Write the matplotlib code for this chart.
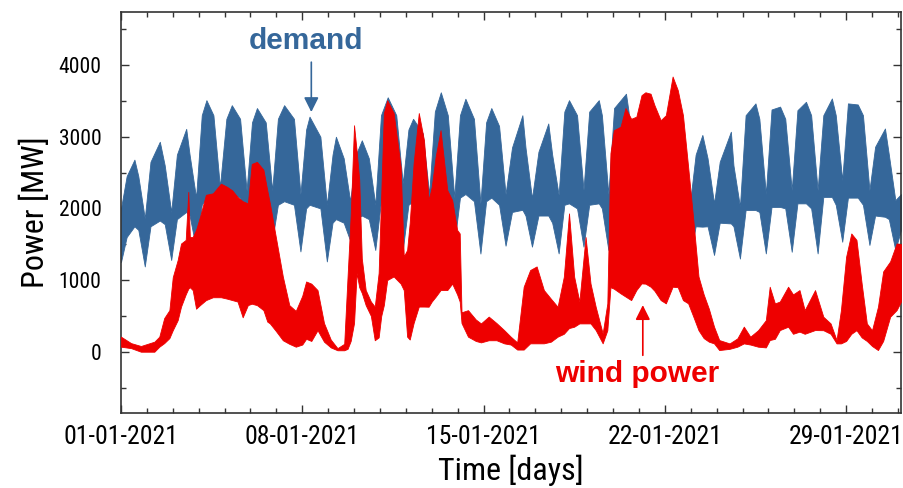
import matplotlib
matplotlib.use("Agg")
import matplotlib.pyplot as plt
from matplotlib.ticker import FixedLocator, MultipleLocator

# Time axis: days since 01-01-2021 00:00
# Electricity demand envelope (upper / lower edge of the fast-varying band), MW
demand_t = [0.0, 0.22, 0.52, 0.67, 0.92,
            1.14, 1.5, 1.69, 1.94,
            2.16, 2.52, 2.65, 2.9,
            3.12, 3.3, 3.57, 3.82,
            4.07, 4.28, 4.6, 4.85,
            5.06, 5.25, 5.59, 5.84,
            6.06, 6.3, 6.68, 6.93,
            7.15, 7.28, 7.7, 7.95,
            8.17, 8.3, 8.6, 8.85,
            9.07, 9.3, 9.57, 9.82,
            10.04, 10.3, 10.63, 10.88,
            11.1, 11.28, 11.65, 11.9,
            12.12, 12.35, 12.62, 12.87,
            13.09, 13.3, 13.63, 13.88,
            14.1, 14.3, 14.6, 14.85,
            15.1, 15.5, 15.62, 15.87,
            16.12, 16.5, 16.65, 16.9,
            17.12, 17.3, 17.61, 17.86,
            18.08, 18.45, 18.57, 18.82,
            19.04, 19.5, 19.6, 19.85,
            20.07, 20.35, 20.63, 20.88,
            21.1, 21.3, 21.72, 21.97,
            22.19, 22.45, 22.65, 22.9,
            23.12, 23.55, 23.65, 23.9,
            24.12, 24.5, 24.65, 24.9,
            25.12, 25.45, 25.65, 25.9,
            26.12, 26.45, 26.65, 26.9,
            27.12, 27.45, 27.6, 27.85,
            28.07, 28.45, 28.65, 28.9,
            29.12, 29.5, 29.65, 29.9,
            30.12]
demand_hi = [2000, 2450, 2680, 2450, 1860,
             2650, 2930, 2600, 1950,
             2750, 3110, 2750, 2150,
             3300, 3510, 3300, 2300,
             3250, 3440, 3250, 2250,
             3200, 3400, 3200, 2250,
             3250, 3440, 3250, 2200,
             3100, 3280, 3000, 2050,
             2750, 3000, 2700, 2100,
             2750, 2950, 2700, 2050,
             3300, 3550, 3300, 2350,
             3100, 3250, 3050, 2200,
             3350, 3620, 3300, 2150,
             3300, 3530, 3250, 2070,
             3200, 3400, 3150, 2200,
             2850, 3300, 2850, 2140,
             2790, 3185, 2750, 2190,
             3350, 3510, 3300, 2260,
             3350, 3510, 3300, 2200,
             3400, 3600, 3350, 2250,
             3400, 3540, 3300, 2200,
             3300, 3400, 3100, 2070,
             2750, 3025, 2700, 2070,
             2650, 3070, 2600, 2025,
             3300, 3465, 3250, 2200,
             3380, 3420, 3250, 2255,
             3370, 3487, 3300, 2255,
             3300, 3534, 3300, 2395,
             3465, 3450, 3300, 2255,
             2860, 3115, 2750, 2115,
             2200]
demand_lo = [1250, 1600, 1750, 1700, 1190,
             1750, 1830, 1780, 1280,
             1850, 1950, 1900, 1440,
             2050, 2150, 2100, 1500,
             2100, 2200, 2150, 1550,
             2100, 2200, 2150, 1550,
             2050, 2100, 2050, 1400,
             2000, 2050, 2000, 1260,
             1800, 1850, 1800, 1550,
             1850, 1900, 1850, 1420,
             2100, 2150, 2100, 1420,
             2050, 2100, 2050, 1500,
             2100, 2150, 2100, 1500,
             2150, 2200, 2100, 1370,
             2100, 2150, 2050, 1480,
             1950, 1980, 1900, 1466,
             1900, 1900, 1800, 1372,
             2050, 2070, 2000, 1466,
             2050, 2070, 2000, 1420,
             2100, 2100, 2000, 1450,
             2100, 2100, 2000, 1450,
             2050, 2100, 2000, 1325,
             1750, 1745, 1750, 1350,
             1800, 1790, 1750, 1300,
             1977, 1977, 1950, 1372,
             2020, 2020, 2000, 1395,
             2070, 2070, 2000, 1372,
             2160, 2160, 2050, 1535,
             2150, 2150, 2050, 1490,
             1900, 1883, 1850, 1420,
             1700]

# Wind power envelope, MW
wind_t = [0.0, 0.39, 0.77, 1.29, 1.48, 1.67, 1.87, 2.0, 2.19, 2.32, 2.5, 2.6,
          2.66, 2.77, 2.9, 3.05, 3.28, 3.55, 3.86, 4.1, 4.3, 4.5, 4.7, 4.9,
          5.05, 5.25, 5.5, 5.65, 5.75, 5.98, 6.25, 6.5, 6.75, 7.0, 7.15, 7.35,
          7.59, 7.84, 8.1, 8.36, 8.62, 8.75, 8.87, 9.0, 9.1, 9.2, 9.3, 9.45,
          9.65, 9.8, 9.95, 10.05, 10.15, 10.28, 10.53, 10.8, 10.92, 11.05,
          11.15, 11.3, 11.5, 11.7, 11.88, 12.0, 12.15, 12.34, 12.6, 12.79,
          12.98, 13.08, 13.15, 13.4, 13.7, 13.9, 14.2, 14.5, 14.8, 15.05,
          15.3, 15.55, 15.8, 16.05, 16.33, 16.6, 16.86, 17.1, 17.3, 17.5,
          17.7, 17.94, 18.13, 18.33, 18.6, 18.78, 18.9, 19.03, 19.29, 19.48,
          19.7, 19.9, 20.1, 20.25, 20.45, 20.6, 20.84, 21.04, 21.3, 21.5,
          21.7, 21.9, 22.1, 22.3, 22.5, 22.7, 22.9, 23.1, 23.5, 23.8, 24.05,
          24.3, 24.6, 24.9, 25.05, 25.25, 25.44, 25.76, 25.95, 26.2, 26.4,
          26.8, 27.12, 27.4, 27.63, 27.8, 28.0, 28.2, 28.4, 28.6, 28.8, 29.0,
          29.23, 29.43, 29.7, 29.95, 30.12]
wind_hi = [210, 120, 80, 140, 210, 470, 580, 1040, 1280, 1510, 1560, 2230,
           1600, 1600, 1700, 1880, 2190, 2210, 2345, 2300, 2250, 2160, 2100, 2070,
           2620, 2650, 2540, 2250, 2070, 1600, 1050, 650, 570, 780, 980, 950,
           860, 400, 170, 50, 110, 1050, 1900, 3160, 2800, 2400, 1300, 860,
           700, 630, 1100, 2200, 3330, 3510, 3330, 2580, 1330, 1420,
           1800, 2630, 3330, 2950, 2115, 2300, 2720, 3090, 2255, 2115,
           1700, 1650, 550, 580, 450, 395, 490, 400, 300, 210,
           130, 907, 1140, 1190, 860, 740, 628, 1046, 1930, 1046,
           700, 1600, 953, 628, 256, 675, 2770, 3090, 3140, 3400,
           3250, 3280, 3580, 3620, 3600, 3440, 3230, 3300, 3840, 3650,
           3300, 2580, 1840, 1050, 800, 600, 350, 163, 116, 186, 350,
           210, 300, 440, 907, 674, 700, 907, 800, 860, 580,
           860, 488, 395, 163, 581, 1325, 1650, 1560, 953, 395, 300,
           628, 1120, 1260, 1511, 1500]
wind_lo = [70, 50, 0, 0, 70, 120, 190, 300, 440, 630, 800, 880,
           900, 860, 600, 650, 720, 760, 760, 740, 720, 700, 480, 650,
           670, 650, 580, 420, 395, 290, 160, 110, 70, 100, 180, 150,
           300, 140, 60, 20, 20, 40, 150, 400, 1100, 900, 820, 650,
           500, 160, 200, 500, 650, 1000, 1050, 950, 860, 210,
           170, 400, 630, 630, 628, 700, 767, 860, 860, 950,
           800, 700, 400, 210, 150, 130, 160, 160, 116, 100,
           30, 30, 117, 117, 117, 140, 210, 250, 330, 349,
           395, 395, 395, 302, 117, 300, 900, 880, 814, 770,
           720, 860, 953, 950, 907, 850, 720, 675, 907, 900,
           720, 675, 490, 300, 190, 140, 116, 23, 40, 70, 116,
           100, 70, 60, 163, 180, 302, 349, 250, 280, 250,
           302, 300, 250, 116, 116, 150, 250, 300, 200, 150, 80,
           23, 150, 488, 581, 700]

tick_days = [0, 7, 14, 21, 28]
tick_labels = ["01-01-2021", "08-01-2021", "15-01-2021", "22-01-2021", "29-01-2021"]

demand_color = "#35679a"
wind_color = "#ee0000"
narrow = ["Roboto Condensed", "Archivo Narrow", "PT Sans Narrow", "DejaVu Sans"]
bold = ["Liberation Sans", "DejaVu Sans"]

fig = plt.figure(figsize=(9.04, 4.88), dpi=100)
ax = fig.add_axes([0.1338, 0.1537, 0.8629, 0.8217])

ax.fill_between(demand_t, demand_lo, demand_hi, color=demand_color, lw=0.6,
                edgecolor=demand_color, zorder=2)
ax.fill_between(wind_t, wind_lo, wind_hi, color=wind_color, lw=0.6,
                edgecolor=wind_color, zorder=3)

ax.set_xlim(0, 30.12)
ax.set_ylim(-855, 4740)

ax.xaxis.set_major_locator(FixedLocator(tick_days))
ax.xaxis.set_minor_locator(MultipleLocator(1))
ax.set_xticklabels(tick_labels, family=narrow, fontsize=18.5)
ax.yaxis.set_major_locator(FixedLocator([0, 1000, 2000, 3000, 4000]))
ax.yaxis.set_minor_locator(MultipleLocator(500))
for lab in ax.get_yticklabels():
    lab.set_family(narrow)
    lab.set_fontsize(15.5)

ax.tick_params(which="both", direction="in", top=True, right=True,
               color="#333333", width=1.0)
ax.tick_params(which="major", length=6)
ax.tick_params(which="minor", length=3.5)
ax.tick_params(axis="x", pad=9)
ax.tick_params(axis="y", pad=14)
for sp in ax.spines.values():
    sp.set_color("#333333")
    sp.set_linewidth(1.2)

ax.set_xlabel("Time [days]", family=narrow, fontsize=23, labelpad=4)
ax.set_ylabel("Power [MW]", family=narrow, fontsize=23, labelpad=6)

ax.annotate("", xy=(7.35, 3344), xytext=(7.35, 4040),
            arrowprops=dict(arrowstyle="-|>", color=demand_color, lw=1.2,
                            mutation_scale=22, shrinkA=0, shrinkB=0), zorder=5)
ax.text(7.15, 4330, "demand", color=demand_color, fontsize=21.5,
        fontweight="bold", family=bold, ha="center", va="center", zorder=5)
ax.annotate("", xy=(20.15, 650), xytext=(20.15, -50),
            arrowprops=dict(arrowstyle="-|>", color=wind_color, lw=1.2,
                            mutation_scale=22, shrinkA=0, shrinkB=0), zorder=5)
ax.text(19.95, -310, "wind power", color=wind_color, fontsize=21.5,
        fontweight="bold", family=bold, ha="center", va="center", zorder=5)

fig.savefig("out.png", dpi=100)
